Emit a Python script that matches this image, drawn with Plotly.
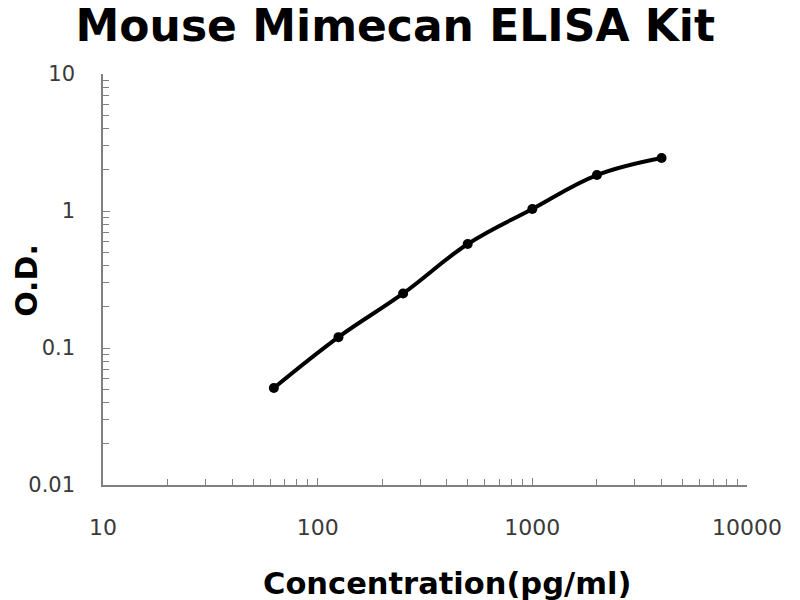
import plotly.graph_objects as go

concentration = [62.5, 125, 250, 500, 1000, 2000, 4000]
od_values = [0.051, 0.120, 0.250, 0.574, 1.035, 1.83, 2.44]

title_text = "Mouse Mimecan ELISA Kit"
x_title = "Concentration(pg/ml)"
y_title = "O.D."

BOLD_FONT = "DejaVu Sans, Verdana, sans-serif"
TICK_FONT = "DejaVu Sans, Verdana, sans-serif"

fig = go.Figure()
fig.add_trace(go.Scatter(
    x=concentration, y=od_values,
    mode="lines+markers",
    line=dict(color="black", width=4, shape="spline", smoothing=1.1),
    marker=dict(color="black", size=10),
    showlegend=False,
))

axis_common = dict(
    type="log",
    showgrid=False,
    zeroline=False,
    showline=True,
    linecolor="#808080",
    linewidth=1.5,
    ticks="inside",
    ticklen=7,
    tickcolor="#808080",
    tickwidth=1.2,
    dtick=1,
    minor=dict(ticks="inside", ticklen=6, tickcolor="#808080", tickwidth=1.2, dtick="D1", showgrid=False),
    mirror=False,
    automargin=False,
)

fig.update_layout(
    width=792, height=592,
    paper_bgcolor="white", plot_bgcolor="white",
    margin=dict(l=95, r=53, t=66, b=115),
    title=dict(text=f"<b>{title_text}</b>", x=0.489, xanchor="center", y=0.97, yanchor="middle",
               font=dict(family=BOLD_FONT, size=44, color="black")),
    xaxis=dict(axis_common, range=[1, 4], tickformat="d",
               tickfont=dict(family=TICK_FONT, size=22, color="#3a3a3a"),
               ticklabelstandoff=22),
    yaxis=dict(axis_common, range=[-2, 1],
               tickfont=dict(family=TICK_FONT, size=21, color="#3a3a3a"),
               ticklabelstandoff=22),
    annotations=[
        dict(text=f"<b>{x_title}</b>", xref="paper", yref="paper", x=0.534, y=-0.24,
             xanchor="center", yanchor="middle", showarrow=False,
             font=dict(family=BOLD_FONT, size=30.5, color="black")),
        dict(text=f"<b>{y_title}</b>", xref="paper", yref="paper", x=-0.118, y=0.497,
             xanchor="center", yanchor="middle", showarrow=False, textangle=-90,
             font=dict(family=BOLD_FONT, size=30, color="black")),
    ],
)

fig.write_html("out.html")
